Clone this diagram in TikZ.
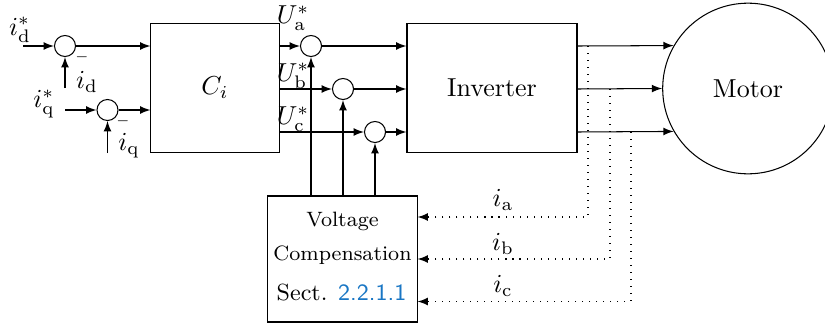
\documentclass[tikz,border=0pt]{standalone}
\usetikzlibrary{arrows,calc}
\definecolor{refblue}{RGB}{25,118,196}
\begin{document}
\begin{tikzpicture}[x=0.385pt,y=-0.385pt,
  sumnode/.style={draw,circle,minimum size=8.1pt,inner sep=0pt},
  blockbox/.style={draw,rectangle,inner sep=0pt},
  sig/.style={-latex},
  fb/.style={-latex,dash pattern=on 0.4pt off 2.3pt},
  lbl/.style={inner sep=0pt}]
\useasboundingbox (0,0) rectangle (825,329);
% summing junctions
\node[sumnode] (sd) at (65,46) {};
\node[sumnode] (sq) at (107.5,110) {};
\node[sumnode] (ua) at (311,46) {};
\node[sumnode] (ub) at (343,89) {};
\node[sumnode] (uc) at (375,132) {};
% blocks
\node[blockbox,minimum width=49.3pt,minimum height=49.3pt] (ci) at (215,88) {$C_i$};
\node[blockbox,minimum width=65.45pt,minimum height=49.3pt] (inv) at (492,88) {Inverter};
\node[blockbox,minimum width=57.4pt,minimum height=48.5pt] (vc) at (342.5,259) {};
\node[draw,circle,minimum size=65.7pt,inner sep=0pt] (motor) at (748,88.5) {Motor};
% texts in the compensation block
\node[lbl,anchor=base] (vt1) at (342.5,226.5) {\footnotesize Voltage};
\node[lbl,anchor=base] (vt2) at (342.5,260) {\footnotesize Compensation};
\node[lbl,anchor=base] (vt3) at (341.5,300.5) {\small Sect. {\sffamily\color{refblue}2.2.1.1}};
% input coordinates
\coordinate (idin) at (23,46);
\coordinate (iqin) at (65,110);
\coordinate (idfb) at (65,88);
\coordinate (iqfb) at (107.5,153);
% input labels
\node[lbl] (lidr) at (20,30) {$i_\mathrm{d}^*$};
\node[lbl] (liqr) at (44,104) {$i_\mathrm{q}^*$};
\node[lbl] (lid) at (87,82) {$i_\mathrm{d}$};
\node[lbl] (liq) at (129,146) {$i_\mathrm{q}$};
\node[lbl] (md) at (82,57) {\tiny$-$};
\node[lbl] (mq) at (123,121) {\tiny$-$};
% input connectors
\draw[sig] (idin) -- (sd.west);
\draw[sig] (iqin) -- (sq.west);
\draw[sig] (idfb) -- (sd.south);
\draw[sig] (iqfb) -- (sq.south);
\draw[sig] (sd.east) -- (ci.west |- sd);
\draw[sig] (sq.east) -- (ci.west |- sq);
% controller outputs
\draw[sig] (ci.east |- ua) -- (ua.west);
\draw[sig] (ci.east |- ub) -- (ub.west);
\draw[sig] (ci.east |- uc) -- (uc.west);
\node[lbl] (lua) at (293,18) {$U_\mathrm{a}^*$};
\node[lbl] (lub) at (293,76) {$U_\mathrm{b}^*$};
\node[lbl] (luc) at (293,119) {$U_\mathrm{c}^*$};
\draw[sig] (ua.east) -- (inv.west |- ua);
\draw[sig] (ub.east) -- (inv.west |- ub);
\draw[sig] (uc.east) -- (inv.west |- uc);
% compensation to sums
\draw[sig] (vc.north -| ua) -- (ua.south);
\draw[sig] (vc.north -| ub) -- (ub.south);
\draw[sig] (vc.north -| uc) -- (uc.south);
% inverter to motor
\draw[sig] (inv.east |- ua) -- (motor.150);
\draw[sig] (inv.east |- ub) -- (motor.west);
\draw[sig] (inv.east |- uc) -- (motor.210);
% current feedback
\coordinate (pa) at (588,46);
\coordinate (pb) at (610,89);
\coordinate (pc) at (631,132);
\coordinate (ya) at (0,217);
\coordinate (yb) at (0,259);
\coordinate (yc) at (0,301.5);
\draw[fb] (pa) |- (vc.east |- ya);
\draw[fb] (pb) |- (vc.east |- yb);
\draw[fb] (pc) |- (vc.east |- yc);
\node[lbl] (lia) at (503,200) {$i_\mathrm{a}$};
\node[lbl] (lib) at (503,244) {$i_\mathrm{b}$};
\node[lbl] (lic) at (503,286) {$i_\mathrm{c}$};
\end{tikzpicture}
\end{document}
